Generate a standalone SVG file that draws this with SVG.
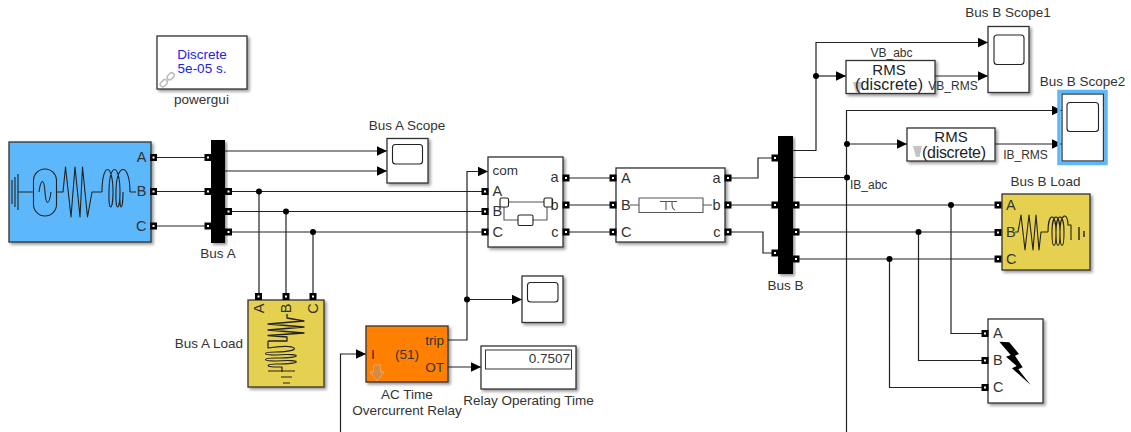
<svg xmlns="http://www.w3.org/2000/svg" width="1131" height="432" viewBox="0 0 1131 432">
<style>
text{font-family:"Liberation Sans",Arial,sans-serif;font-size:13.5px;fill:#333}
.m{text-anchor:middle}.e{text-anchor:end}
.l{font-size:12px}
.r{font-size:15px;fill:#222}
.d{font-size:16px;fill:#222}
.b{fill:#fff;stroke:#333;stroke-width:1.3;filter:url(#sh)}
.i{fill:none;stroke:#222;stroke-width:1.1;stroke-linejoin:round}
.w{fill:none;stroke:#222;stroke-width:1.2}
.a{marker-end:url(#ar)}
.j{fill:#000;stroke:none}
.t text{font-size:14.5px}
</style>
<defs>
<filter id="sh" x="-15%" y="-15%" width="135%" height="135%"><feDropShadow dx="2" dy="2" stdDeviation="1.6" flood-color="#000" flood-opacity="0.4"/></filter>
<marker id="ar" markerUnits="userSpaceOnUse" markerWidth="11" markerHeight="10" refX="10.5" refY="5" orient="auto"><path d="M0 0L10.5 5L0 10z" fill="#000"/></marker>
<g id="p"><rect x="-3.5" y="-3.5" width="7" height="7" fill="#000"/><rect x="-1" y="-1" width="2" height="2" fill="#fff"/></g>
</defs>

<g id="connectors" class="w">
<path d="M153 157.500H208M153 191.500H208M153 226H208"/>
<path class="a" d="M225 151H387"/>
<path class="a" d="M225 171H387"/>
<path d="M229 191.500H485M229 211.500H485M229 232H485"/>
<path d="M259 191.500V296M286 211.500V296M313 232V296"/>
<path d="M566 178H613M566 205H613M566 232H613"/>
<path d="M728 178H758V158H775M728 205H775M728 232H763V253H775"/>
<path class="a" d="M447 340H467V171.500H488"/>
<path class="a" d="M467 299.500H522"/>
<path class="a" d="M447 367H481"/>
<path class="a" d="M340.500 432V354H366"/>
<path class="a" d="M793 150.500H816V42.500H988"/>
<path class="a" d="M816 76H846"/>
<path class="a" d="M935 76H988"/>
<path d="M793 177.500H847"/>
<path class="a" d="M846.500 432V110.500H1062"/>
<path class="a" d="M847 144H907"/>
<path class="a" d="M995 144H1062"/>
<path d="M796 205H998M796 232H998M796 259H998"/>
<path d="M951 205V333.500H985M918.500 232V360.500H985M889.500 259V387.500H985"/>
<g class="j">
<circle cx="259" cy="191.500" r="3"/><circle cx="286" cy="211.500" r="3"/><circle cx="313" cy="232" r="3"/>
<circle cx="467" cy="299.500" r="3"/><circle cx="816" cy="76" r="3"/><circle cx="847" cy="144" r="3"/><circle cx="847" cy="177.500" r="3"/>
<circle cx="951" cy="205" r="3"/><circle cx="918.500" cy="232" r="3"/><circle cx="889.500" cy="259" r="3"/>
</g>
</g>

<g id="powergui">
<rect class="b" x="157" y="36" width="90" height="53"/>
<text class="m" x="202" y="59" style="fill:#2222ee">Discrete</text>
<text class="m" x="202" y="73" style="fill:#2222ee">5e-05 s.</text>
<g fill="none" stroke="#bbb" stroke-width="1.500">
<rect x="-5" y="-2.500" width="8" height="5" rx="2.500" transform="translate(164.500 82.500) rotate(-45)"/>
<rect x="-3" y="-2.500" width="8" height="5" rx="2.500" transform="translate(170 77) rotate(-45)"/>
</g>
<text class="m" x="201.500" y="104">powergui</text>
</g>

<g id="source" class="t">
<rect class="b" x="9" y="142" width="142" height="100" style="fill:#5cb8fb"/>
<path class="i" d="M12 180V204M15 177V207M18 174V210M18 192H33"/>
<rect class="i" x="33.500" y="169" width="23" height="47" rx="11.500"/>
<path class="i" d="M39 192C41 178 44 178 45 192C46 206 49 206 51 192"/>
<path class="i" d="M57 192H63L65.500 167L71 217L75 167L80 217L82.500 167L87.500 217L92 192H102"/>
<path class="i" d="M102 192C102 162 113 162 113 192C113 212 108 212 109 192C109 162 120 162 120 192C120 212 115 212 116 192C116 162 130 162 130 192V192M123 192C123 212 119 212 120 192M130 192H136"/>
<text class="e" x="146.500" y="162">A</text><text class="e" x="146.500" y="196">B</text><text class="e" x="146.500" y="230.500">C</text>
<use href="#p" x="153.500" y="157.500"/><use href="#p" x="153.500" y="191.500"/><use href="#p" x="153.500" y="226"/>
</g>

<g id="bus-a">
<rect x="211" y="140" width="14" height="103" fill="#000" filter="url(#sh)"/>
<use href="#p" x="208" y="157.500"/><use href="#p" x="208" y="191.500"/><use href="#p" x="208" y="226"/>
<use href="#p" x="228.500" y="191.500"/><use href="#p" x="228.500" y="211.500"/><use href="#p" x="228.500" y="232"/>
<text class="m" x="218" y="258">Bus A</text>
</g>

<g id="bus-a-scope">
<rect class="b" x="387" y="138.500" width="41" height="44.500"/>
<rect class="i" x="392.500" y="144.500" width="30" height="19.500" rx="3"/>
<text class="m" x="407" y="130">Bus A Scope</text>
</g>

<g id="bus-a-load">
<rect class="b" x="248" y="300" width="76" height="87" style="fill:#e6d04f"/>
<g class="t">
<text class="m" transform="translate(264 308.500) rotate(-90)" x="0" y="0">A</text>
<text class="m" transform="translate(291 308.500) rotate(-90)" x="0" y="0">B</text>
<text class="m" transform="translate(318 308.500) rotate(-90)" x="0" y="0">C</text>
</g>
<path class="i" d="M287 314V318L304 321L268 324L304 327L268 330L304 333L268 335.500L287 337V341H268" style="stroke-width:1.300"/>
<path class="i" d="M268 341V348C300 343 303 352 276 352C262 352 262 355 276 355C303 353 303 358 276 358C262 358 262 361 276 361C303 359 303 364 276 364C266 364 266 367 274 367H282V372" style="stroke-width:1.200"/>
<path class="i" d="M268 371H295M281 377H292M283 383H290" style="stroke-width:1.200"/>
<use href="#p" x="258.500" y="296.500"/><use href="#p" x="286" y="296.500"/><use href="#p" x="313" y="296.500"/>
<text class="e" x="243" y="348">Bus A Load</text>
</g>

<g id="relay">
<rect class="b" x="366" y="326" width="82" height="56" style="fill:#ff8000"/>
<text x="371" y="359">I</text><text class="m" x="407" y="359">(51)</text>
<text class="e" x="444" y="345">trip</text><text class="e" x="444" y="372">OT</text>
<path d="M373.500 365H380.500V372H384L377 381L370 372H373.500z" fill="#d9893a" stroke="#e8a468"/>
<text class="m" x="407" y="399">AC Time</text>
<text class="m" x="407" y="415">Overcurrent Relay</text>
</g>

<g id="switch" class="t">
<rect class="b" x="488" y="157" width="75" height="90"/>
<text x="492.500" y="175" style="font-size:13.500px">com</text>
<text x="492.500" y="196">A</text><text x="492.500" y="216">B</text><text x="492.500" y="237">C</text>
<text class="e" x="558.500" y="182">a</text><text class="e" x="558.500" y="209.500">b</text><text class="e" x="558.500" y="236.500">c</text>
<path class="i" d="M508.500 202H544M504 207V220H518M533 220H547V207" style="stroke:#555"/>
<rect class="i" x="500" y="198" width="8.500" height="9" rx="1.500"/><rect class="i" x="544" y="198" width="8.500" height="9" rx="1.500"/><rect class="i" x="518" y="215" width="15" height="10.500" rx="1.500"/>
<use href="#p" x="485" y="191.500"/><use href="#p" x="485" y="211.500"/><use href="#p" x="485" y="232"/>
<use href="#p" x="566" y="178"/><use href="#p" x="566" y="205"/><use href="#p" x="566" y="232"/>
</g>

<g id="scope-trip">
<rect class="b" x="522" y="276" width="41" height="46.500"/>
<rect class="i" x="527.500" y="282.500" width="30.500" height="19.500" rx="3"/>
</g>

<g id="relay-display">
<rect class="b" x="481" y="346" width="95" height="43"/>
<rect x="485.500" y="350" width="86" height="19" fill="#fff" stroke="#333" stroke-width="1"/>
<text class="e" x="570" y="362.500">0.7507</text>
<text class="m" x="528.500" y="405">Relay Operating Time</text>
</g>

<g id="line" class="t">
<rect class="b" x="616" y="168" width="109" height="74"/>
<text x="621" y="183">A</text><text x="621" y="210">B</text><text x="621" y="237">C</text>
<text class="e" x="720.500" y="183">a</text><text class="e" x="720.500" y="210">b</text><text class="e" x="720.500" y="237">c</text>
<rect class="i" x="639" y="198" width="64" height="14.500" style="stroke:#555"/>
<path class="i" d="M630 205H639M703 205H712M660 201.500H677M666 201.500V210M672 201.500C672 206 672 209 675 210" style="stroke:#555"/>
<use href="#p" x="613" y="178"/><use href="#p" x="613" y="205"/><use href="#p" x="613" y="232"/>
<use href="#p" x="728" y="178"/><use href="#p" x="728" y="205"/><use href="#p" x="728" y="232"/>
</g>

<g id="bus-b">
<rect x="778" y="136" width="15" height="138" fill="#000" filter="url(#sh)"/>
<use href="#p" x="775" y="158"/><use href="#p" x="775" y="205"/><use href="#p" x="775" y="253"/>
<use href="#p" x="796" y="205"/><use href="#p" x="796" y="232"/><use href="#p" x="796" y="259"/>
<text class="m" x="785.500" y="290">Bus B</text>
</g>

<g id="rms-v">
<rect class="b" x="846" y="60.500" width="89" height="33"/>
<path d="M853 82H862L859.500 93H856z" fill="#c4c4c4"/>
<text class="m r" x="889" y="75">RMS</text>
<text class="d" x="855" y="90" textLength="68">(discrete)</text>
</g>

<g id="bus-b-scope1">
<rect class="b" x="988" y="26.500" width="41" height="66"/>
<rect class="i" x="994" y="35" width="30" height="29.500" rx="3"/>
<text class="m" x="1008" y="17">Bus B Scope1</text>
</g>

<g id="rms-i">
<rect class="b" x="907" y="128" width="88" height="33"/>
<path d="M913 146H922L919.500 157H916z" fill="#c4c4c4"/>
<text class="m r" x="951" y="142">RMS</text>
<text class="d" x="922" y="158" textLength="64">(discrete)</text>
</g>

<g id="bus-b-scope2">
<rect x="1059" y="91.500" width="47" height="72" fill="none" stroke="#5cb8fb" stroke-width="3.500"/>
<rect class="b" x="1062" y="94" width="41.500" height="67" style="filter:none"/>
<rect class="i" x="1067" y="102.500" width="31.500" height="29" rx="3"/>
<text class="m" x="1082.500" y="86">Bus B Scope2</text>
</g>

<g id="bus-b-load">
<rect class="b" x="1002" y="194" width="88" height="76" style="fill:#e6d04f"/>
<g class="t"><text x="1006" y="210">A</text><text x="1006" y="237">B</text><text x="1006" y="264">C</text></g>
<path class="i" d="M1015 232H1018L1021 215L1025 250L1029 215L1033 250L1036 215L1039 250L1041 232H1048"/>
<path class="i" d="M1048 232C1048 212 1056 212 1056 232C1056 250 1052 250 1052 232C1052 212 1060 212 1060 232C1060 250 1056 250 1056 232C1056 212 1064 212 1064 232C1064 250 1060 250 1060 232C1060 212 1068 212 1068 225H1071V240"/>
<path class="i" d="M1079 227V240M1084 231V237" style="stroke-width:1.400"/>
<use href="#p" x="998" y="205"/><use href="#p" x="998" y="232.500"/><use href="#p" x="998" y="259"/>
<text class="m" x="1045.500" y="186">Bus B Load</text>
</g>

<g id="fault" class="t">
<rect class="b" x="988" y="319" width="55" height="84"/>
<text x="993" y="338">A</text><text x="993" y="365">B</text><text x="993" y="392">C</text>
<path d="M999.300 341.700L1009.300 342.300L1019 354L1015 355.700L1022.700 367.300L1018.300 369.300L1030.700 385L1012 368.300L1016.700 366L1006 356.700L1010.700 355z" fill="#000"/>
<use href="#p" x="985" y="333.500"/><use href="#p" x="985" y="360.500"/><use href="#p" x="985" y="387.500"/>
</g>

<g id="signal-labels">
<text class="m l" x="891.500" y="57">VB_abc</text>
<text class="m l" x="953" y="90">VB_RMS</text>
<text class="m l" x="1025.500" y="159">IB_RMS</text>
<text class="l" x="850" y="189">IB_abc</text>
</g>
</svg>
